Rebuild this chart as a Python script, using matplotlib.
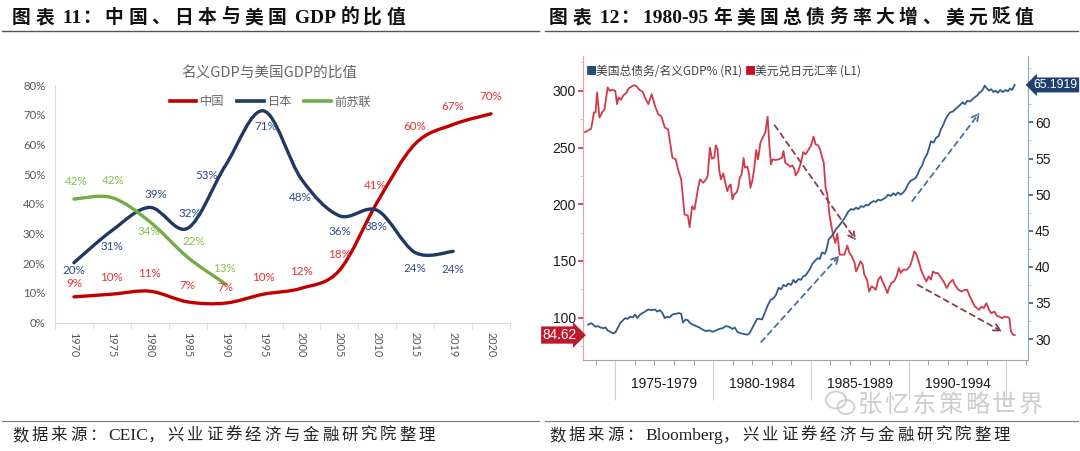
import numpy as np
import matplotlib
matplotlib.use('Agg')
import matplotlib.pyplot as plt
import matplotlib.transforms as mtrans
from matplotlib.path import Path
from matplotlib.patches import PathPatch, Rectangle, Ellipse
from matplotlib.lines import Line2D

plt.rcParams['font.family'] = ['Noto Sans CJK SC', 'DejaVu Sans']

# ---------------- left chart: nominal GDP relative to US GDP (%)
years = ['1970', '1975', '1980', '1985', '1990', '1995', '2000', '2005',
         '2010', '2015', '2019', '2020']
china = [8.7, 9.6, 10.6, 7.0, 6.6, 9.6, 11.6, 17.6, 40.6, 60.2, 66.7, 70.3]
japan = [20.2, 31.0, 38.8, 31.8, 53.0, 71.3, 48.3, 36.0, 37.8, 23.6, 24.0]
ussr = [41.6, 42.1, 34.0, 22.0, 13.0]
names = ['中国', '日本', '前苏联']

# ---------------- right chart: USD/JPY (L1) and US total debt / nominal GDP % (R1)
jpy_t = [1973.45, 1973.57, 1973.77, 1973.91, 1973.99, 1974.07, 1974.19, 1974.33, 1974.45,
         1974.61, 1974.72, 1974.83, 1975.00, 1975.09, 1975.17, 1975.29, 1975.42, 1975.56,
         1975.68, 1975.76, 1975.96, 1976.10, 1976.23, 1976.40, 1976.52, 1976.69, 1976.86,
         1977.03, 1977.19, 1977.36, 1977.53, 1977.70, 1977.78, 1977.92, 1978.09, 1978.21,
         1978.37, 1978.54, 1978.71, 1978.80, 1978.93, 1979.05, 1979.22, 1979.33, 1979.50,
         1979.64, 1979.72, 1979.84, 1979.94, 1980.06, 1980.14, 1980.23, 1980.31, 1980.40,
         1980.52, 1980.62, 1980.73, 1980.82, 1980.90, 1980.99, 1981.07, 1981.19, 1981.29,
         1981.36, 1981.46, 1981.56, 1981.63, 1981.75, 1981.83, 1981.91, 1982.00, 1982.10,
         1982.20, 1982.30, 1982.42, 1982.54, 1982.67, 1982.79, 1982.88, 1982.96, 1983.04,
         1983.18, 1983.35, 1983.52, 1983.60, 1983.69, 1983.82, 1983.94, 1984.06, 1984.16,
         1984.22, 1984.36, 1984.49, 1984.61, 1984.73, 1984.87, 1985.00, 1985.14, 1985.24,
         1985.37, 1985.47, 1985.57, 1985.66, 1985.75, 1985.84, 1985.96, 1986.13, 1986.25,
         1986.35, 1986.47, 1986.59, 1986.72, 1986.86, 1986.97, 1987.09, 1987.23, 1987.31,
         1987.43, 1987.53, 1987.65, 1987.73, 1987.87, 1987.98, 1988.10, 1988.24, 1988.32,
         1988.44, 1988.57, 1988.66, 1988.78, 1988.91, 1988.99, 1989.11, 1989.25, 1989.38,
         1989.50, 1989.59, 1989.72, 1989.89, 1990.06, 1990.18, 1990.29, 1990.40, 1990.51,
         1990.63, 1990.77, 1990.90, 1991.02, 1991.14, 1991.24, 1991.36, 1991.49, 1991.61,
         1991.78, 1991.95, 1992.08, 1992.25, 1992.37, 1992.54, 1992.71, 1992.87, 1992.99,
         1993.13, 1993.26, 1993.38, 1993.50, 1993.60, 1993.72, 1993.84, 1993.97, 1994.11,
         1994.22, 1994.39, 1994.51, 1994.64, 1994.78, 1994.90, 1995.07, 1995.15, 1995.23,
         1995.35, 1995.42]
jpy_v = [263.5, 264.6, 266.7, 280.9, 280.9, 298.5, 276.4, 280.9, 283.8,
         303.0, 300.0, 300.9, 300.0, 288.2, 294.1, 292.1, 296.2, 298.0,
         302.1, 303.0, 305.0, 303.9, 300.9, 299.1, 294.1, 288.2, 297.1,
         286.8, 279.4, 277.3, 267.6, 266.1, 257.2, 241.0, 239.5, 230.7,
         221.9, 190.9, 190.0, 179.7, 198.3, 195.3, 213.0, 221.9, 218.9,
         221.9, 224.8, 249.9, 240.1, 241.0, 251.9, 248.4, 230.7, 221.9,
         227.2, 218.9, 211.5, 216.0, 217.4, 204.2, 208.6, 210.1, 214.5,
         223.3, 226.3, 240.7, 232.2, 233.1, 227.8, 214.5, 220.4, 230.7,
         247.8, 239.5, 254.3, 258.7, 263.2, 277.3, 251.3, 235.1, 239.5,
         239.0, 239.5, 241.0, 246.9, 236.6, 235.1, 233.1, 234.2, 230.7,
         225.4, 229.2, 236.6, 246.0, 244.0, 247.8, 251.3, 259.6, 252.8,
         251.9, 248.4, 241.5, 236.6, 215.0, 208.6, 189.4, 173.2, 165.8,
         174.1, 155.5, 155.5, 155.5, 163.5, 157.0, 154.0, 148.7, 140.7,
         145.2, 149.6, 146.6, 137.8, 133.4, 123.0, 127.5, 126.0, 124.5,
         133.4, 136.3, 131.9, 127.5, 121.6, 126.0, 130.4, 131.9, 136.3,
         143.7, 139.3, 142.2, 142.2, 145.2, 151.1, 158.4, 155.5, 149.6,
         142.2, 136.3, 131.9, 136.3, 133.4, 140.7, 139.3, 139.3, 136.3,
         131.9, 126.0, 130.4, 133.4, 128.9, 124.5, 123.0, 124.5, 124.5,
         118.6, 114.2, 109.8, 108.3, 106.8, 109.8, 108.3, 112.7, 106.8,
         103.9, 105.3, 101.5, 100.9, 99.4, 100.9, 100.3, 99.4, 87.6,
         84.7, 84.62]
debt_t = [1973.62, 1973.77, 1973.87, 1973.99, 1974.11, 1974.24, 1974.38, 1974.50, 1974.61,
          1974.75, 1974.88, 1975.00, 1975.12, 1975.25, 1975.39, 1975.51, 1975.63, 1975.76,
          1975.90, 1976.01, 1976.13, 1976.27, 1976.40, 1976.52, 1976.69, 1976.86, 1977.03,
          1977.14, 1977.28, 1977.41, 1977.53, 1977.65, 1977.78, 1977.92, 1978.09, 1978.26,
          1978.37, 1978.46, 1978.59, 1978.71, 1978.83, 1978.96, 1979.13, 1979.30, 1979.47,
          1979.64, 1979.81, 1979.98, 1980.14, 1980.31, 1980.48, 1980.65, 1980.82, 1980.99,
          1981.11, 1981.24, 1981.41, 1981.58, 1981.75, 1981.86, 1982.00, 1982.13, 1982.25,
          1982.37, 1982.50, 1982.64, 1982.77, 1982.93, 1983.10, 1983.21, 1983.35, 1983.48,
          1983.60, 1983.72, 1983.85, 1983.99, 1984.11, 1984.22, 1984.36, 1984.49, 1984.61,
          1984.73, 1984.83, 1984.95, 1985.07, 1985.20, 1985.34, 1985.46, 1985.57, 1985.71,
          1985.79, 1985.91, 1986.05, 1986.18, 1986.30, 1986.42, 1986.55, 1986.69, 1986.80,
          1986.92, 1987.06, 1987.19, 1987.31, 1987.43, 1987.56, 1987.70, 1987.82, 1987.93,
          1988.07, 1988.20, 1988.32, 1988.44, 1988.57, 1988.71, 1988.83, 1988.95, 1989.08,
          1989.22, 1989.33, 1989.45, 1989.59, 1989.72, 1989.84, 1989.96, 1990.09, 1990.23,
          1990.35, 1990.46, 1990.56, 1990.68, 1990.80, 1990.94, 1991.07, 1991.14, 1991.27,
          1991.41, 1991.53, 1991.64, 1991.74, 1991.86, 1991.98, 1992.12, 1992.25, 1992.37,
          1992.49, 1992.62, 1992.76, 1992.87, 1992.99, 1993.13, 1993.26, 1993.38, 1993.50,
          1993.60, 1993.72, 1993.80, 1993.89, 1994.00, 1994.11, 1994.22, 1994.34, 1994.44,
          1994.56, 1994.68, 1994.81, 1994.95, 1995.07, 1995.18, 1995.29, 1995.42]
debt_v = [32.0, 32.2, 32.0, 31.7, 31.8, 31.6, 31.5, 31.6, 31.2,
          31.0, 30.8, 30.9, 31.5, 32.2, 32.6, 32.9, 32.8, 33.1,
          33.0, 33.4, 32.9, 33.4, 33.6, 33.8, 34.1, 34.0, 34.1,
          33.8, 34.0, 33.6, 32.9, 33.1, 33.0, 33.4, 33.5, 33.6,
          33.5, 32.3, 32.7, 32.6, 32.2, 32.0, 31.8, 31.6, 31.3,
          31.1, 31.2, 31.0, 31.2, 31.4, 31.5, 31.8, 31.7, 31.4,
          31.6, 31.0, 30.8, 30.7, 30.6, 30.8, 31.5, 32.2, 32.8,
          32.8, 32.7, 33.6, 34.5, 35.4, 35.7, 36.1, 37.1, 36.9,
          37.5, 37.3, 37.7, 37.5, 38.2, 37.8, 38.3, 38.2, 38.7,
          38.8, 39.2, 39.7, 40.4, 40.8, 41.2, 41.1, 42.0, 41.8,
          42.3, 43.8, 44.2, 44.7, 45.3, 45.6, 46.1, 46.6, 47.1,
          47.7, 48.0, 47.9, 48.2, 48.0, 48.4, 48.3, 48.6, 48.5,
          48.9, 49.1, 49.0, 49.3, 49.2, 49.4, 49.6, 50.0, 49.8,
          50.2, 49.9, 50.3, 50.0, 50.3, 50.7, 51.4, 51.9, 52.1,
          52.3, 52.8, 53.5, 54.0, 54.9, 55.6, 56.7, 57.4, 57.2,
          57.9, 58.1, 59.0, 59.5, 60.3, 60.9, 61.4, 61.5, 61.8,
          62.1, 62.4, 62.8, 62.5, 63.0, 62.9, 63.2, 63.5, 63.7,
          64.1, 64.3, 64.6, 65.1, 64.7, 64.4, 64.6, 64.2, 64.4,
          64.1, 64.5, 64.2, 64.5, 64.3, 64.7, 64.5, 65.1919]
period_starts = [1975, 1980, 1985, 1990]
# trend arrows: (start, end) as (year, value)
jpy_trend = [((1983.15, 269.6), (1987.31, 167.9)), ((1990.46, 128.9), (1994.78, 87.6))]
debt_trend = [((1982.46, 29.6), (1986.47, 41.6)), ((1990.18, 49.1), (1993.64, 61.4))]

W, H = 1080, 451
fig = plt.figure(figsize=(W / 100, H / 100), dpi=100)
fx = lambda x: x / W
fy = lambda y: 1 - y / H
rend = fig.canvas.get_renderer()


def spaced(x, y, s, size, pitch, weight='normal', color='black', lsize=None):
    # CJK glyphs on a fixed pitch, latin runs in a serif face
    run = ''
    for ch in s + '\u3000':
        if ord(ch) > 0x2e80:
            if run:
                t = fig.text(fx(x), fy(y), run, fontsize=lsize or size, fontweight=weight,
                             family='Liberation Serif', color=color, va='baseline')
                x += t.get_window_extent(rend).width
                run = ''
            if ch != '\u3000':
                fig.text(fx(x), fy(y), ch, fontsize=size, fontweight=weight,
                         family='Noto Sans CJK SC', color=color, va='baseline')
                x += pitch
        else:
            run += ch


def smooth_path(xs, ys):
    p = np.column_stack([xs, ys]).astype(float)
    n = len(p)
    verts, codes = [p[0]], [Path.MOVETO]
    for i in range(n - 1):
        p0, p1, p2, p3 = p[max(i - 1, 0)], p[i], p[i + 1], p[min(i + 2, n - 1)]
        verts += [p1 + (p2 - p0) / 6, p2 - (p3 - p1) / 6, p2]
        codes += [Path.CURVE4] * 3
    return Path(verts, codes)


# ---- headers, rules, sources
spaced(12, 23, '图表 11：中国、日本与美国 GDP 的比值', 13.5, 23.2, 'bold', '#111111', 14)
spaced(549, 23, '图表 12：1980-95 年美国总债务率大增、美元贬值', 13.5, 23.2, 'bold', '#111111', 14)
for a, b in [(2, 539), (545, 1078)]:
    fig.add_artist(Line2D([fx(a), fx(b)], [fy(30.5)] * 2, color='#555555', lw=1.0))
    fig.add_artist(Line2D([fx(a), fx(b)], [fy(421)] * 2, color='#777777', lw=0.8))
spaced(12, 440, '数据来源：CEIC，兴业证券经济与金融研究院整理', 11.8, 19.3, 'normal', '#222222', 12.5)
spaced(549, 440, '数据来源：Bloomberg，兴业证券经济与金融研究院整理', 11.8, 19.3, 'normal', '#222222', 12.5)
spaced(858, 412, '张忆东策略世界', 17.5, 26.8, 'normal', '#cdcdcd')
# wechat-like mark of the watermark
fig.add_artist(Ellipse((fx(836), fy(400)), fx(20), 17 / H, fill=False, ec='#cdcdcd', lw=1.3))
fig.add_artist(Ellipse((fx(846), fy(407)), fx(17), 14 / H, fill=False, ec='#cdcdcd', lw=1.3))

# ---- left chart
ax = fig.add_axes([fx(55), fy(322.7), fx(455), (322.7 - 85) / H])
ax.set_xlim(-0.5, 11.5)
ax.set_ylim(0, 80)
for s in ['top', 'right']:
    ax.spines[s].set_visible(False)
for s in ['left', 'bottom']:
    ax.spines[s].set_color('#d9d9d9')
lato = ['Lato', 'DejaVu Sans']
ax.set_yticks(range(0, 81, 10), [f'{v}%' for v in range(0, 81, 10)], fontfamily=lato, fontsize=8.2)
ax.set_xticks(range(len(years)), years, rotation=-90, fontfamily=lato, fontsize=7.8)
ax.set_xticks(np.arange(-0.5, len(years)), minor=True)
ax.tick_params(axis='y', length=0, pad=7, labelcolor='#595959')
ax.tick_params(axis='x', which='major', length=0, pad=7, labelcolor='#595959')
ax.tick_params(axis='x', which='minor', length=4, color='#d9d9d9')

colors = ['#c00000', '#1f3864', '#70ad47']
label_colors = ['#e8312f', '#2e4a8c', '#86c04f']
series = [china, japan, ussr]
# label offsets in pixels (dx, dy up)
offsets = [
    [(0, 13), (0, 17), (0, 18), (0, 16), (0, 16), (0, 17), (0, 17), (0, 16), (-2, 17), (0, 17), (0, 18), (0, 17)],
    [(0, -8), (0, -16), (6, 13), (2, 15), (-19, -10), (2, -16), (-1, -18), (1, -16), (-1, -16), (0, -16), (0, -18)],
    [(2, 18), (1, 17), (-1, -10), (6, 16), (-1, 16)],
]
for vals, c, lc, offs in zip(series, colors, label_colors, offsets):
    xs = np.arange(len(vals))
    ax.add_patch(PathPatch(smooth_path(xs, vals), fill=False, ec=c, lw=2.4, capstyle='round'))
    for x, v, (dx, dy) in zip(xs, vals, offs):
        ax.annotate(f'{round(v)}%', (x, v), xytext=(dx * 0.72, dy * 0.72), textcoords='offset points',
                    ha='center', va='center', color=lc, fontsize=8.4, fontfamily=lato)

fig.text(fx(269), fy(73), '名义GDP与美国GDP的比值', ha='center', va='center', fontsize=10.5, color='#666666')
handles = [Line2D([], [], color=c, lw=2.6) for c in colors]
fig.legend(handles, names, loc='center', bbox_to_anchor=(fx(270.5), fy(102)), ncol=3, frameon=False,
           prop={'family': 'Noto Sans CJK SC', 'size': 8.8}, labelcolor='#666666',
           handlelength=2.2, handletextpad=0.3, columnspacing=1.0, borderpad=0)

# ---- right chart
narrow = ['Liberation Sans Narrow', 'Liberation Sans', 'DejaVu Sans']
red, blue = '#d23a4a', '#2f5b8c'
ax2 = fig.add_axes([fx(583), fy(360), fx(445), 304 / H])
axr = ax2.twinx()
ax2.set_xlim(1973.35, 1996.1)
ax2.set_ylim(62.6, 330.7)
axr.set_ylim(27.1, 69.2)
ax2.plot(jpy_t, jpy_v, color=red, lw=1.3)
axr.plot(debt_t, debt_v, color=blue, lw=1.3)

ax2.spines['top'].set_visible(False)
ax2.spines['right'].set_visible(False)
ax2.spines['left'].set_color('#eaa0a8')
ax2.spines['bottom'].set_color('#a6a6a6')
for s in ['top', 'left', 'bottom']:
    axr.spines[s].set_visible(False)
axr.spines['right'].set_color('#8ea6c6')

lt = [100, 150, 200, 250, 300]
ax2.set_yticks(lt, [str(v) for v in lt], fontfamily=narrow, fontsize=10)
ax2.set_yticks([75, 125, 175, 225, 275, 325], minor=True)
ax2.tick_params(axis='y', which='major', length=3.5, width=1.2, color='#d03040', pad=1.5, labelcolor='#1a1a1a')
ax2.tick_params(axis='y', which='minor', length=2.5, color='#f0b0b8')
rt = [30, 35, 40, 45, 50, 55, 60]
axr.set_yticks(rt, [str(v) for v in rt], fontfamily=narrow, fontsize=10)
axr.set_yticks([32.5, 37.5, 42.5, 47.5, 52.5, 57.5, 62.5, 65, 67.5], minor=True)
axr.tick_params(axis='y', which='major', length=3.5, width=1.2, color=blue, pad=1.5, labelcolor='#1a1a1a')
axr.tick_params(axis='y', which='minor', length=2.5, color='#a8bcd6')

ax2.set_xticks(period_starts + [1995], [''] * 5)
ax2.set_xticks(range(1974, 1997), minor=True)
ax2.tick_params(axis='x', which='major', length=29, color='#d0d0d0')
ax2.tick_params(axis='x', which='minor', length=3.5, color='#8c8c8c')
tb = mtrans.blended_transform_factory(ax2.transData, fig.transFigure)
for s in period_starts:
    ax2.text(s + 2.5, fy(384), f'{s}-{s + 4}', transform=tb, ha='center', va='center',
             fontsize=10, fontfamily=narrow, color='#1a1a1a')

for (p0, p1) in jpy_trend:
    ax2.annotate('', xy=p1, xytext=p0,
                 arrowprops=dict(arrowstyle='->,head_length=0.5,head_width=0.25', color='#8c3a4a',
                                 lw=1.3, linestyle=(0, (3, 2.5)), shrinkA=0, shrinkB=0))
for (p0, p1) in debt_trend:
    axr.annotate('', xy=p1, xytext=p0,
                 arrowprops=dict(arrowstyle='->,head_length=0.5,head_width=0.25', color='#4a6fa0',
                                 lw=1.3, linestyle=(0, (3, 2.5)), shrinkA=0, shrinkB=0))

# legend strip
fig.add_artist(Rectangle((fx(583), fy(85)), fx(285), 29 / H, transform=fig.transFigure,
                         color='#f0f0f0', zorder=0))
ly = fy(71)
fig.text(fx(586), ly, '■', color='#1f4e79', fontsize=8, va='center')
fig.text(fx(596), ly, '美国总债务/名义GDP% (R1)', color='#404040', fontsize=8.5, va='center')
fig.text(fx(745), ly, '■', color='#c8102e', fontsize=8, va='center')
fig.text(fx(755), ly, '美元兑日元汇率 (L1)', color='#404040', fontsize=8.5, va='center')

# last-value tags
axr.annotate(f'{debt_v[-1]:.4f}', xy=(1, debt_v[-1]), xycoords=('axes fraction', 'data'),
             xytext=(4, 0), textcoords='offset points', ha='left', va='center', color='white',
             fontsize=8.8, fontfamily=narrow, annotation_clip=False,
             bbox=dict(boxstyle='larrow,pad=0.12', fc='#1f3f6e', ec='none'))
ax2.annotate(f'{jpy_v[-1]:.2f}', xy=(0, jpy_v[-1]), xycoords=('axes fraction', 'data'),
             xytext=(-4.5, 0), textcoords='offset points', ha='right', va='center', color='white',
             fontsize=9.8, fontfamily=narrow, annotation_clip=False,
             bbox=dict(boxstyle='rarrow,pad=0.12', fc='#c0182c', ec='none'))

fig.savefig('out.png', dpi=100, facecolor='white')
